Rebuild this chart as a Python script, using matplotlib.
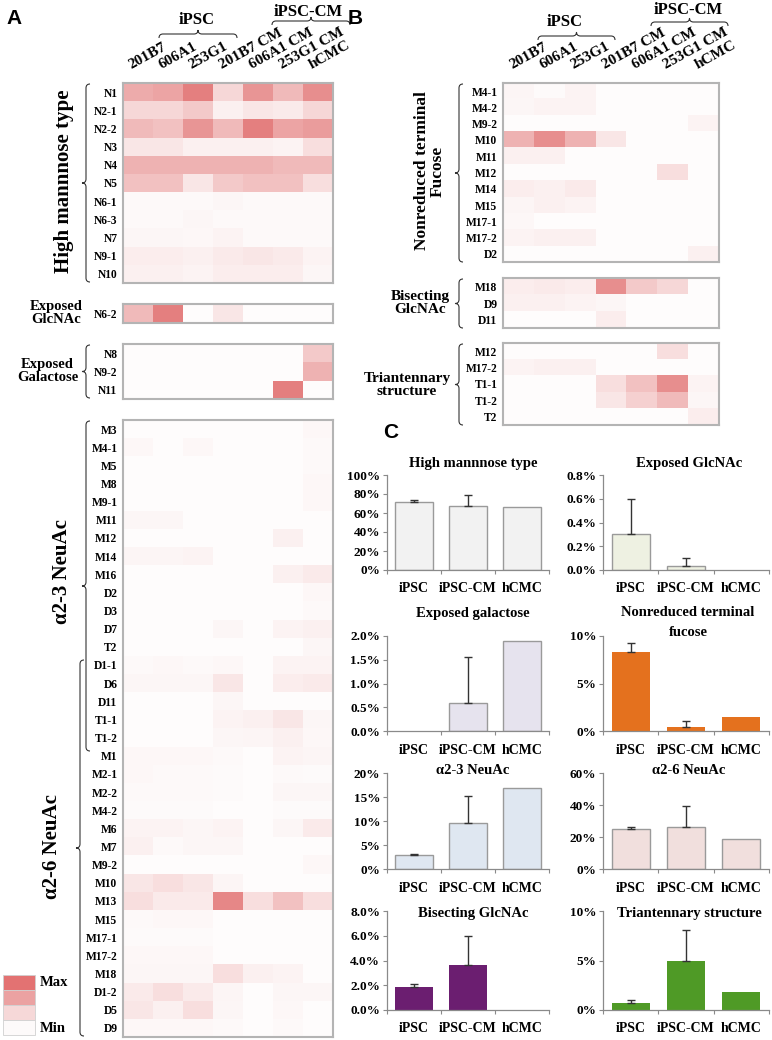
import numpy as np
import matplotlib
matplotlib.use("Agg")
import matplotlib.pyplot as plt
from matplotlib.colors import LinearSegmentedColormap
from matplotlib.path import Path
from matplotlib.patches import PathPatch, Rectangle
import matplotlib.transforms as mtransforms

plt.rcParams['font.family'] = ['Liberation Serif', 'DejaVu Serif']

# ---------------- data ----------------
columns = ["201B7", "606A1", "253G1", "201B7 CM", "606A1 CM", "253G1 CM", "hCMC"]

a_high_rows = ["N1", "N2-1", "N2-2", "N3", "N4", "N5", "N6-1", "N6-3", "N7", "N9-1", "N10"]
a_high_vals = [
    [0.55, 0.60, 0.85, 0.25, 0.70, 0.45, 0.75],
    [0.25, 0.25, 0.35, 0.08, 0.15, 0.12, 0.25],
    [0.45, 0.40, 0.70, 0.45, 0.85, 0.60, 0.65],
    [0.15, 0.15, 0.08, 0.08, 0.08, 0.06, 0.20],
    [0.50, 0.50, 0.50, 0.50, 0.50, 0.45, 0.45],
    [0.40, 0.40, 0.15, 0.35, 0.40, 0.40, 0.20],
    [0.02, 0.02, 0.02, 0.04, 0.02, 0.02, 0.02],
    [0.02, 0.02, 0.04, 0.02, 0.02, 0.02, 0.02],
    [0.04, 0.04, 0.03, 0.06, 0.02, 0.02, 0.02],
    [0.10, 0.10, 0.08, 0.12, 0.15, 0.12, 0.06],
    [0.08, 0.08, 0.06, 0.10, 0.10, 0.10, 0.04],
]
a_glcnac_rows = ["N6-2"]
a_glcnac_vals = [[0.45, 0.85, 0.0, 0.15, 0.0, 0.0, 0.0]]
a_gal_rows = ["N8", "N9-2", "N11"]
a_gal_vals = [
    [0, 0, 0, 0, 0, 0, 0.35],
    [0, 0, 0, 0, 0, 0, 0.50],
    [0, 0, 0, 0, 0, 0.85, 0],
]
a_sia_rows = ["M3", "M4-1", "M5", "M8", "M9-1", "M11", "M12", "M14", "M16", "D2", "D3", "D7",
              "T2", "D1-1", "D6", "D11", "T1-1", "T1-2", "M1", "M2-1", "M2-2", "M4-2", "M6",
              "M7", "M9-2", "M10", "M13", "M15", "M17-1", "M17-2", "M18", "D1-2", "D5", "D9"]
a_sia_vals = [
    [0, 0, 0, 0, 0, 0, 0.03],
    [0.03, 0, 0.03, 0, 0, 0, 0.02],
    [0, 0, 0, 0, 0, 0, 0.02],
    [0, 0, 0, 0, 0, 0, 0.03],
    [0, 0, 0, 0, 0, 0, 0.03],
    [0.04, 0.04, 0, 0, 0, 0, 0],
    [0, 0, 0, 0, 0, 0.08, 0],
    [0.05, 0.05, 0.06, 0, 0, 0, 0],
    [0, 0, 0, 0, 0, 0.08, 0.12],
    [0, 0, 0, 0, 0, 0, 0.03],
    [0, 0, 0, 0, 0, 0, 0.02],
    [0, 0, 0, 0.04, 0, 0.06, 0.08],
    [0, 0, 0, 0, 0, 0, 0.04],
    [0.02, 0.03, 0.02, 0.03, 0, 0.06, 0.06],
    [0.04, 0.04, 0.04, 0.15, 0, 0.10, 0.12],
    [0, 0, 0, 0.04, 0, 0, 0],
    [0, 0, 0, 0.06, 0.08, 0.15, 0.04],
    [0, 0, 0, 0.04, 0.05, 0.08, 0.03],
    [0.03, 0.03, 0.03, 0.02, 0, 0.06, 0.05],
    [0.03, 0.02, 0.02, 0.01, 0, 0.02, 0.01],
    [0.02, 0.02, 0.02, 0.01, 0, 0.04, 0.04],
    [0.01, 0.01, 0.01, 0, 0, 0.01, 0.01],
    [0.06, 0.06, 0.04, 0.06, 0, 0.04, 0.12],
    [0.08, 0.02, 0.04, 0.04, 0, 0, 0],
    [0, 0, 0, 0, 0, 0, 0.03],
    [0.15, 0.20, 0.15, 0.05, 0, 0, 0],
    [0.20, 0.12, 0.12, 0.80, 0.20, 0.40, 0.20],
    [0.02, 0.03, 0.03, 0, 0, 0, 0],
    [0.01, 0.01, 0.01, 0, 0, 0, 0],
    [0.03, 0.03, 0.03, 0, 0, 0, 0],
    [0.04, 0.04, 0.04, 0.20, 0.08, 0.06, 0],
    [0.12, 0.20, 0.12, 0.05, 0, 0.04, 0.04],
    [0.15, 0.08, 0.20, 0.04, 0, 0.03, 0],
    [0.03, 0.03, 0.03, 0.02, 0, 0.02, 0],
]

b_fuc_rows = ["M4-1", "M4-2", "M9-2", "M10", "M11", "M12", "M14", "M15", "M17-1", "M17-2", "D2"]
b_fuc_vals = [
    [0.05, 0.01, 0.06, 0, 0, 0, 0],
    [0.04, 0.06, 0.06, 0, 0, 0, 0],
    [0, 0, 0, 0, 0, 0, 0.06],
    [0.50, 0.75, 0.50, 0.15, 0, 0, 0],
    [0.08, 0.08, 0, 0, 0, 0, 0],
    [0, 0, 0, 0, 0, 0.20, 0],
    [0.10, 0.08, 0.12, 0, 0, 0, 0],
    [0.05, 0.08, 0.06, 0, 0, 0, 0],
    [0.03, 0, 0, 0, 0, 0, 0],
    [0.06, 0.08, 0.08, 0, 0, 0, 0],
    [0, 0, 0, 0, 0, 0, 0.08],
]
b_bis_rows = ["M18", "D9", "D11"]
b_bis_vals = [
    [0.10, 0.12, 0.10, 0.75, 0.35, 0.25, 0],
    [0.08, 0.08, 0.06, 0.04, 0, 0, 0],
    [0, 0, 0, 0.10, 0, 0, 0],
]
b_tri_rows = ["M12", "M17-2", "T1-1", "T1-2", "T2"]
b_tri_vals = [
    [0, 0, 0, 0, 0, 0.20, 0],
    [0.06, 0.08, 0.08, 0, 0, 0, 0],
    [0, 0, 0, 0.20, 0.40, 0.75, 0.06],
    [0, 0, 0, 0.15, 0.30, 0.45, 0.04],
    [0, 0, 0, 0, 0, 0, 0.10],
]

bar_groups = ["iPSC", "iPSC-CM", "hCMC"]
c_titles = ["High mannnose type", "Exposed GlcNAc", "Exposed galactose",
            "Nonreduced terminal\nfucose", "\u03b12-3 NeuAc", "\u03b12-6 NeuAc",
            "Bisecting GlcNAc", "Triantennary structure"]
c_means = [
    [71.3, 67.4, 66.0],
    [0.30, 0.035, 0.0],
    [0.0, 0.58, 1.90],
    [8.35, 0.40, 1.45],
    [2.9, 9.5, 16.9],
    [25.2, 26.4, 18.5],
    [1.87, 3.6, 0.0],
    [0.75, 5.0, 1.8],
]
c_errs = [
    [2.0, 11.2, 0.0],
    [0.30, 0.065, 0.0],
    [0.0, 0.97, 0.0],
    [0.90, 0.70, 0.0],
    [0.25, 5.8, 0.0],
    [1.2, 12.8, 0.0],
    [0.21, 2.35, 0.0],
    [0.23, 3.05, 0.0],
]
c_yticks = [
    [0, 20, 40, 60, 80, 100],
    [0, 0.2, 0.4, 0.6, 0.8],
    [0, 0.5, 1.0, 1.5, 2.0],
    [0, 5, 10],
    [0, 5, 10, 15, 20],
    [0, 20, 40, 60],
    [0, 2, 4, 6, 8],
    [0, 5, 10],
]
c_fmt = ["{:.0f}%", "{:.1f}%", "{:.1f}%", "{:.0f}%", "{:.0f}%", "{:.0f}%", "{:.1f}%", "{:.0f}%"]
c_colors = ["#f2f2f2", "#eef1e2", "#e6e3ee", "#e4711e", "#dfe7f1", "#f1dfdd", "#6b1e70", "#4f9a26"]

# ---------------- figure ----------------
W, H = 772, 1040
fig = plt.figure(figsize=(W / 100, H / 100), dpi=100)
ov = fig.add_axes([0, 0, 1, 1])
ov.set_xlim(0, W)
ov.set_ylim(H, 0)
ov.axis('off')

BOLD = dict(fontweight='bold')
cmap = LinearSegmentedColormap.from_list("wr", ["#fefcfc", "#e06a6a"])
FRAME = "#b4b4b4"


def add_ax(x0, y0, x1, y1):
    return fig.add_axes([x0 / W, 1 - y1 / H, (x1 - x0) / W, (y1 - y0) / H])


def vbrace(x, y0, y1, d=4, e=4, lw=0.8):
    ym = (y0 + y1) / 2
    verts = [(x + e, y0), (x, y0), (x, y0 + e),
             (x, ym - e), (x, ym), (x - d, ym),
             (x, ym), (x, ym + e),
             (x, y1 - e), (x, y1), (x + e, y1)]
    codes = [Path.MOVETO, Path.CURVE3, Path.CURVE3,
             Path.LINETO, Path.CURVE3, Path.CURVE3,
             Path.CURVE3, Path.CURVE3,
             Path.LINETO, Path.CURVE3, Path.CURVE3]
    ov.add_patch(PathPatch(Path(verts, codes), fill=False, lw=lw, ec="#333333"))


def hbrace(x0, x1, y, d=4, e=4, lw=0.8):
    xm = (x0 + x1) / 2
    verts = [(x0, y + e), (x0, y), (x0 + e, y),
             (xm - e, y), (xm, y), (xm, y - d),
             (xm, y), (xm + e, y),
             (x1 - e, y), (x1, y), (x1, y + e)]
    codes = [Path.MOVETO, Path.CURVE3, Path.CURVE3,
             Path.LINETO, Path.CURVE3, Path.CURVE3,
             Path.CURVE3, Path.CURVE3,
             Path.LINETO, Path.CURVE3, Path.CURVE3]
    ov.add_patch(PathPatch(Path(verts, codes), fill=False, lw=lw, ec="#333333"))


def heat(x0, x1, y0, y1, rows, vals, top_labels=False, label_fs=8.3):
    ax = add_ax(x0, y0, x1, y1)
    ax.imshow(np.array(vals, dtype=float), cmap=cmap, vmin=0, vmax=1, aspect='auto',
              interpolation='nearest')
    ax.set_yticks(range(len(rows)))
    ax.set_yticklabels(rows, fontsize=label_fs, fontweight='bold')
    ax.tick_params(axis='y', length=0, pad=4)
    if top_labels:
        ax.xaxis.tick_top()
        ax.set_xticks(range(len(columns)))
        ax.set_xticklabels(columns, rotation=29, ha='left', va='bottom',
                           rotation_mode='anchor', fontsize=11, fontweight='bold')
        ax.tick_params(axis='x', length=0, pad=8)
        off = mtransforms.ScaledTranslation(-5 / 100, 0, fig.dpi_scale_trans)
        for lab in ax.get_xticklabels():
            lab.set_transform(lab.get_transform() + off)
    else:
        ax.set_xticks([])
    for s in ax.spines.values():
        s.set_color(FRAME)
        s.set_linewidth(1.5)
    return ax


# ---------------- Panel A ----------------
AX0, AX1 = 123, 333
heat(AX0, AX1, 83, 283, a_high_rows, a_high_vals, top_labels=True)
heat(AX0, AX1, 304, 323, a_glcnac_rows, a_glcnac_vals)
heat(AX0, AX1, 344, 399, a_gal_rows, a_gal_vals)
heat(AX0, AX1, 420, 1037, a_sia_rows, a_sia_vals)

ov.text(6, 18, "A", fontsize=15, fontweight='bold', family='Liberation Sans', va='center')
ov.text(197, 20, "iPSC", fontsize=12, ha='center', va='center', **BOLD)
hbrace(159, 237, 34)
ov.text(308, 12, "iPSC-CM", fontsize=12, ha='center', va='center', **BOLD)
hbrace(272, 350, 21)

vbrace(86, 84, 282)
ov.text(64, 181, "High mannnose type", rotation=90, fontsize=15, ha='center', va='center', **BOLD)
ov.text(83, 313, "Exposed\nGlcNAc", fontsize=10.5, ha='right', va='center',
        multialignment='center', linespacing=1.0, **BOLD)
vbrace(86, 345, 398)
ov.text(78, 371, "Exposed\nGalactose", fontsize=10.5, ha='right', va='center',
        multialignment='center', linespacing=1.0, **BOLD)
vbrace(86, 421, 751)
ov.text(62, 572, "\u03b12-3 NeuAc", rotation=90, fontsize=15, ha='center', va='center', **BOLD)
vbrace(80, 660, 1036)
ov.text(52, 847, "\u03b12-6 NeuAc", rotation=90, fontsize=15, ha='center', va='center', **BOLD)

# legend
leg_cols = ["#e37272", "#eba2a2", "#f6d8d8", "#fdfafa"]
for i, c in enumerate(leg_cols):
    ov.add_patch(Rectangle((3, 975 + i * 15), 32, 15, fc=c, ec="#d0d0d0", lw=0.6))
ov.text(40, 983, "Max", fontsize=10.5, va='center', **BOLD)
ov.text(40, 1028, "Min", fontsize=10.5, va='center', **BOLD)

# ---------------- Panel B ----------------
BX0, BX1 = 503, 719
heat(BX0, BX1, 83, 262, b_fuc_rows, b_fuc_vals, top_labels=True)
heat(BX0, BX1, 278, 328, b_bis_rows, b_bis_vals)
heat(BX0, BX1, 343, 425, b_tri_rows, b_tri_vals)

ov.text(348, 18, "B", fontsize=15, fontweight='bold', family='Liberation Sans', va='center')
ov.text(565, 22, "iPSC", fontsize=12, ha='center', va='center', **BOLD)
hbrace(538, 615, 36)
ov.text(688, 10, "iPSC-CM", fontsize=12, ha='center', va='center', **BOLD)
hbrace(651, 728, 22)

vbrace(459, 84, 262)
ov.text(430, 171, "Nonreduced terminal\nFucose", rotation=90, fontsize=12.5, ha='center',
        va='center', multialignment='center', linespacing=1.0, **BOLD)
vbrace(459, 279, 328)
ov.text(420, 303, "Bisecting\nGlcNAc", fontsize=11, ha='center', va='center',
        multialignment='center', linespacing=1.05, **BOLD)
vbrace(459, 344, 425)
ov.text(407, 385, "Triantennary\nstructure", fontsize=11, ha='center', va='center',
        multialignment='center', linespacing=1.05, **BOLD)

# ---------------- Panel C ----------------
ov.text(383, 433, "C", fontsize=15, fontweight='bold', family='Liberation Sans', va='center')
col_x = [(387, 549), (603, 769)]
row_y = [(475, 570), (636, 731), (773, 869), (911, 1010)]
title_y = [463, 613, 770, 914]
for k in range(8):
    r, c = divmod(k, 2)
    (x0, x1), (y0, y1) = col_x[c], row_y[r]
    ax = add_ax(x0, y0, x1, y1)
    xs = np.arange(3)
    means = np.array(c_means[k])
    light = k not in (3, 6, 7)
    show = means > 0
    ax.bar(xs[show], means[show], width=0.69, color=c_colors[k],
           edgecolor="#9a9a9a" if light else 'none', linewidth=1.0, zorder=2)
    errs = np.array(c_errs[k])
    mask = errs > 0
    ax.errorbar(xs[mask], means[mask],
                yerr=[np.zeros(mask.sum()), errs[mask]],
                fmt='none', ecolor="#333333", elinewidth=1.0, capsize=3, capthick=1.0, zorder=3)
    yt = c_yticks[k]
    ax.set_ylim(0, yt[-1])
    ax.set_xlim(-0.5, 2.5)
    ax.set_yticks(yt)
    ax.set_yticklabels([c_fmt[k].format(v) for v in yt], fontsize=9.5, fontweight='bold')
    ax.set_xticks([-0.5, 0.5, 1.5, 2.5])
    ax.set_xticklabels([])
    ax.set_xticks(xs, minor=True)
    ax.set_xticklabels(bar_groups, minor=True, fontsize=10, fontweight='bold')
    ax.tick_params(axis='x', which='minor', length=0, pad=9)
    ax.tick_params(axis='x', which='major', length=3, color="#8a8a8a", width=0.8)
    ax.tick_params(axis='y', length=3, color="#8a8a8a", width=0.8, pad=2)
    for s in ("top", "right"):
        ax.spines[s].set_visible(False)
    for s in ("left", "bottom"):
        ax.spines[s].set_color("#8a8a8a")
        ax.spines[s].set_linewidth(0.9)
    ax.patch.set_alpha(0)
    cx = (x0 + x1) / 2 + (5 if c == 0 else 0)
    if k == 3:
        ov.text(cx + 2, title_y[r], "Nonreduced terminal", fontsize=10.5, ha='center', va='center', **BOLD)
        ov.text(cx + 2, title_y[r] + 20, "fucose", fontsize=10.5, ha='center', va='center', **BOLD)
    else:
        ov.text(cx + (3 if c == 1 else 0), title_y[r], c_titles[k], fontsize=10.5,
                ha='center', va='center', **BOLD)

fig.savefig("out.png", dpi=100)
